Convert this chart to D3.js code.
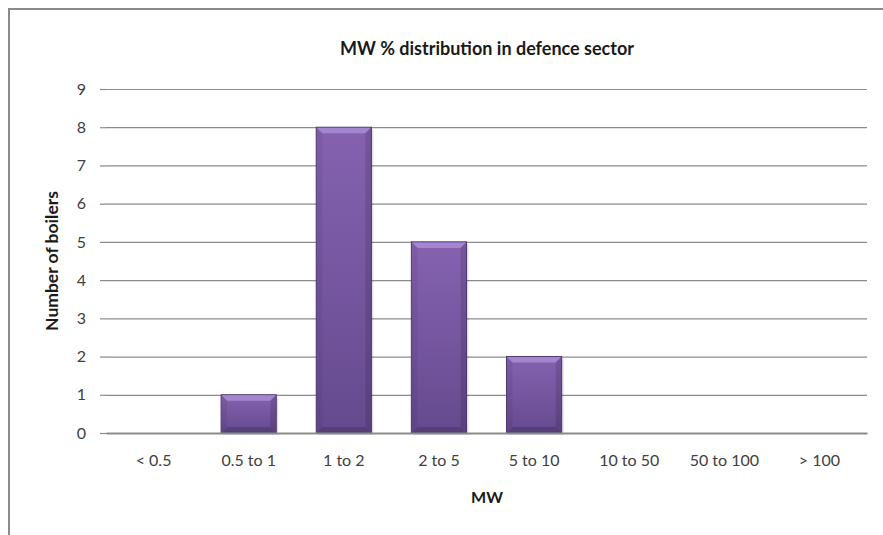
<!DOCTYPE html>
<html>
<head>
<meta charset="utf-8">
<script src="https://cdn.jsdelivr.net/npm/d3@7"></script>
<style>
  body { margin: 0; background: #fff; }
  svg text { font-family: Lato, "Open Sans", sans-serif; }
</style>
</head>
<body>
<div class="chart-container"></div>
<script>
// data
const categories = ["< 0.5", "0.5 to 1", "1 to 2", "2 to 5", "5 to 10", "10 to 50", "50 to 100", "> 100"];
const boilers = [0, 1, 8, 5, 2, 0, 0, 0];
const yTicks = [0, 1, 2, 3, 4, 5, 6, 7, 8, 9];

const W = 883, H = 535;
const margin = {top: 89, right: 16, bottom: 102, left: 106};
const width = W - margin.left - margin.right,
      height = H - margin.top - margin.bottom;

const svg = d3.select(".chart-container").append("svg")
    .attr("width", W)
    .attr("height", H);

// chart area border (runs off right and bottom)
svg.append("path")
    .attr("d", `M9,${H + 5} L9,9 L${W + 5},9`)
    .attr("fill", "none")
    .attr("stroke", "#8a8a8a")
    .attr("stroke-width", 2);

const defs = svg.append("defs");
const grad = defs.append("linearGradient")
    .attr("id", "barGrad")
    .attr("x1", 0).attr("y1", 0).attr("x2", 0).attr("y2", 1);
grad.append("stop").attr("offset", "0%").attr("stop-color", "#8562b0");
grad.append("stop").attr("offset", "100%").attr("stop-color", "#654a8e");

const g = svg.append("g")
    .attr("transform", "translate(" + margin.left + "," + margin.top + ")");

const x = d3.scaleBand().domain(categories).range([0, width]).padding(0);
const y = d3.scaleLinear().domain([0, 9]).range([height, 0]);

// gridlines
g.append("g")
    .attr("class", "grid")
    .call(d3.axisLeft(y).tickValues(yTicks).tickSize(-width).tickFormat(""))
    .call(a => a.select(".domain").remove())
    .call(a => a.selectAll("line").attr("stroke", "#8c8c8c").attr("stroke-width", 1.2));

// y ticks
g.append("g")
    .call(d3.axisLeft(y).tickValues(yTicks).tickSize(6).tickPadding(14))
    .call(a => a.select(".domain").remove())
    .call(a => a.selectAll("line").attr("stroke", "#8c8c8c").attr("stroke-width", 1.2))
    .call(a => a.selectAll("text").attr("fill", "#404040").style("font-size", "16px"));

// bars
const barW = x.bandwidth() * 0.58;
const bev = 6;
const bars = g.selectAll(".bar")
    .data(categories.map((c, i) => ({cat: c, value: boilers[i]})).filter(d => d.value > 0))
  .enter().append("g")
    .attr("class", "bar");

// soft shadow
bars.append("rect")
    .attr("x", d => x(d.cat) + (x.bandwidth() - barW) / 2 + 2)
    .attr("y", d => y(d.value) + 2)
    .attr("width", barW)
    .attr("height", d => y(0) - y(d.value))
    .attr("fill", "#000")
    .attr("opacity", 0.12);

bars.append("rect")
    .attr("x", d => x(d.cat) + (x.bandwidth() - barW) / 2)
    .attr("y", d => y(d.value))
    .attr("width", barW)
    .attr("height", d => y(0) - y(d.value))
    .attr("fill", "url(#barGrad)")
    .attr("stroke", "#4e3870")
    .attr("stroke-width", 1);

// top bevel
bars.append("path")
    .attr("d", d => {
      const x0 = x(d.cat) + (x.bandwidth() - barW) / 2, x1 = x0 + barW, y0 = y(d.value);
      return `M${x0 + 0.5},${y0 + 0.5} L${x1 - 0.5},${y0 + 0.5} L${x1 - bev},${y0 + bev} L${x0 + bev},${y0 + bev} Z`;
    })
    .attr("fill", "#a486d0");

// side + bottom bevels
bars.append("path")
    .attr("d", d => {
      const x0 = x(d.cat) + (x.bandwidth() - barW) / 2, y0 = y(d.value), y1 = y(0);
      return `M${x0 + 0.5},${y0 + 0.5} L${x0 + bev},${y0 + bev} L${x0 + bev},${y1 - bev} L${x0 + 0.5},${y1 - 0.5} Z`;
    })
    .attr("fill", "#000").attr("opacity", 0.06);
bars.append("path")
    .attr("d", d => {
      const x1 = x(d.cat) + (x.bandwidth() + barW) / 2, y0 = y(d.value), y1 = y(0);
      return `M${x1 - 0.5},${y0 + 0.5} L${x1 - bev},${y0 + bev} L${x1 - bev},${y1 - bev} L${x1 - 0.5},${y1 - 0.5} Z`;
    })
    .attr("fill", "#000").attr("opacity", 0.12);
bars.append("path")
    .attr("d", d => {
      const x0 = x(d.cat) + (x.bandwidth() - barW) / 2, x1 = x0 + barW, y1 = y(0);
      return `M${x0 + 0.5},${y1 - 0.5} L${x1 - 0.5},${y1 - 0.5} L${x1 - bev},${y1 - bev} L${x0 + bev},${y1 - bev} Z`;
    })
    .attr("fill", "#000").attr("opacity", 0.15);

// x axis
g.append("g")
    .attr("transform", "translate(0," + height + ")")
    .call(d3.axisBottom(x).tickSize(0).tickPadding(22))
    .call(a => a.select(".domain").attr("stroke", "#8c8c8c").attr("stroke-width", 2))
    .call(a => a.selectAll("text").attr("fill", "#404040").style("font-size", "16px"));

// title
svg.append("text")
    .attr("x", 487)
    .attr("y", 55)
    .attr("text-anchor", "middle")
    .style("font-size", "18px")
    .style("font-weight", "bold")
    .attr("fill", "#1a1a1a")
    .text("MW % distribution in defence sector");

// axis labels
svg.append("text")
    .attr("x", 487)
    .attr("y", 503)
    .attr("text-anchor", "middle")
    .style("font-size", "16px")
    .style("font-weight", "bold")
    .attr("fill", "#1a1a1a")
    .text("MW");

svg.append("text")
    .attr("transform", "translate(58," + (margin.top + height / 2) + ") rotate(-90)")
    .attr("text-anchor", "middle")
    .style("font-size", "17.5px")
    .style("font-weight", "bold")
    .attr("fill", "#1a1a1a")
    .text("Number of boilers");
</script>
</body>
</html>
